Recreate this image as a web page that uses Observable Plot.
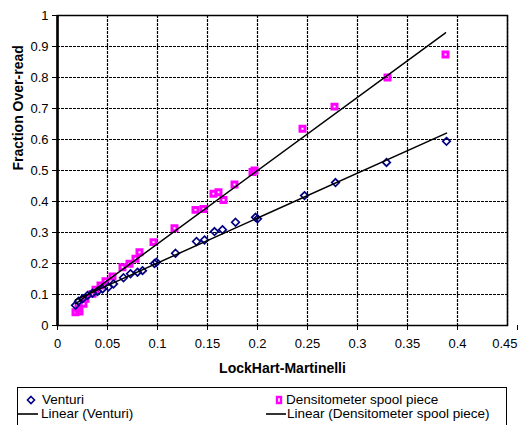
<!DOCTYPE html>
<html>
<head>
<meta charset="utf-8">
<script src="https://cdn.jsdelivr.net/npm/d3@7"></script>
<script src="https://cdn.jsdelivr.net/npm/@observablehq/plot@0.6"></script>
<style>
  html, body { margin: 0; padding: 0; background: #fff; overflow: hidden; }
  body { width: 518px; height: 425px; position: relative; font-family: Arial, "Liberation Sans", sans-serif; }
  #legend { position: absolute; left: 17px; top: 387px; width: 490px; height: 60px; border: 1.5px solid #000; box-sizing: border-box; font-size: 13.5px; color: #000; }
  #legend .item { position: absolute; white-space: nowrap; line-height: 14px; }
  #legend svg { position: absolute; }
</style>
</head>
<body>
<div id="chart"></div>
<div id="legend"></div>
<script>
// Venturi over-read vs Lockhart-Martinelli parameter
const venturiX = [0.018, 0.021, 0.025, 0.030, 0.035, 0.040, 0.045, 0.051, 0.056, 0.066, 0.073, 0.080, 0.085, 0.097, 0.099, 0.118, 0.139, 0.147, 0.157, 0.165, 0.178, 0.198, 0.200, 0.247, 0.278, 0.329, 0.389];
const venturiY = [0.065, 0.078, 0.086, 0.097, 0.104, 0.110, 0.118, 0.124, 0.134, 0.154, 0.167, 0.172, 0.177, 0.200, 0.204, 0.233, 0.271, 0.276, 0.303, 0.309, 0.333, 0.349, 0.344, 0.419, 0.461, 0.526, 0.594];

// Densitometer spool piece over-read
const densX = [0.018, 0.021, 0.022, 0.026, 0.028, 0.035, 0.038, 0.043, 0.048, 0.055, 0.065, 0.072, 0.078, 0.082, 0.096, 0.117, 0.138, 0.146, 0.156, 0.161, 0.166, 0.177, 0.195, 0.197, 0.245, 0.277, 0.330, 0.388];
const densY = [0.043, 0.054, 0.045, 0.070, 0.086, 0.102, 0.115, 0.129, 0.143, 0.158, 0.188, 0.199, 0.215, 0.236, 0.269, 0.314, 0.373, 0.376, 0.425, 0.430, 0.405, 0.455, 0.495, 0.500, 0.635, 0.706, 0.800, 0.874];

const xTicks = [0, 0.05, 0.1, 0.15, 0.2, 0.25, 0.3, 0.35, 0.4, 0.45];
const yTicks = [0, 0.1, 0.2, 0.3, 0.4, 0.5, 0.6, 0.7, 0.8, 0.9, 1];

const venturi = venturiX.map((x, i) => ({x, y: venturiY[i]}));
const dens = densX.map((x, i) => ({x, y: densY[i]}));

const navy = "#000080";
const magenta = "#FF00FF";
const fmt = d => String(+d.toFixed(2));
const lastTick = xTicks[xTicks.length - 1];

const chart = Plot.plot({
  width: 518,
  height: 385,
  marginLeft: 57,
  marginRight: 11,
  marginTop: 15,
  marginBottom: 60,
  style: {fontFamily: "Arial, 'Liberation Sans', sans-serif", fontSize: "13px", color: "#000", background: "#fff", overflow: "visible"},
  x: {domain: [0, 0.45]},
  y: {domain: [0, 1]},
  marks: [
    Plot.gridX(xTicks, {stroke: "#000", strokeOpacity: 1, strokeWidth: 1.2, strokeDasharray: "3,1"}),
    Plot.gridY(yTicks, {stroke: "#000", strokeOpacity: 1, strokeWidth: 1.2, strokeDasharray: "3,1"}),
    Plot.frame({stroke: "#000", strokeWidth: 1.5}),
    Plot.ruleX([0], {stroke: "#000", strokeWidth: 2.5}),
    Plot.axisX({ticks: xTicks.slice(0, -1), tickSize: 5, tickPadding: 8, tickFormat: fmt, label: null, fontSize: 13}),
    // last label kept inside the page edge
    Plot.axisX({ticks: [lastTick], tickSize: 5, tickPadding: 8, tickFormat: fmt, label: null, fontSize: 13, textAnchor: "end", dx: 10}),
    Plot.axisY({ticks: yTicks, tickSize: 5, tickPadding: 4, tickFormat: fmt, label: null, fontSize: 13}),
    Plot.text(["LockHart-Martinelli"], {frameAnchor: "bottom", dy: 47, fontWeight: "bold", fontSize: 14}),
    Plot.text(["Fraction Over-read"], {frameAnchor: "left", dx: -39, rotate: -90, fontWeight: "bold", fontSize: 14}),
    Plot.dot(dens, {x: "x", y: "y", symbol: "square", r: 2.8, fill: "none", stroke: magenta, strokeWidth: 3}),
    Plot.dot(venturi, {x: "x", y: "y", symbol: "diamond2", r: 3.4, fill: "none", stroke: navy, strokeWidth: 1.7}),
    Plot.linearRegressionY(venturi, {x: "x", y: "y", ci: 0, stroke: "#000", strokeWidth: 1.5}),
    Plot.linearRegressionY(dens, {x: "x", y: "y", ci: 0, stroke: "#000", strokeWidth: 1.5})
  ]
});
document.getElementById("chart").appendChild(chart);

// Legend below the plot
const legend = document.getElementById("legend");
const items = [
  {label: "Venturi", left: 8, top: 5, kind: "diamond", gap: 16},
  {label: "Densitometer spool piece", left: 257, top: 5, kind: "square", gap: 11},
  {label: "Linear (Venturi)", left: 0, top: 19, kind: "line", gap: 23},
  {label: "Linear (Densitometer spool piece)", left: 248, top: 19, kind: "line", gap: 21}
];
for (const it of items) {
  const el = document.createElement("div");
  el.className = "item";
  el.style.left = it.left + "px";
  el.style.top = it.top + "px";
  let sym = "";
  if (it.kind === "diamond") {
    sym = `<svg width="10" height="10" style="left:0;top:2px"><path d="M5,1.5L8.5,5L5,8.5L1.5,5Z" fill="none" stroke="${navy}" stroke-width="1.6"/></svg>`;
  } else if (it.kind === "square") {
    sym = `<svg width="10" height="10" style="left:0;top:2px"><rect x="2" y="2" width="4" height="6" fill="none" stroke="${magenta}" stroke-width="2.4"/></svg>`;
  } else {
    sym = `<svg width="22" height="10" style="left:0;top:2px"><line x1="0" y1="5" x2="20" y2="5" stroke="#000" stroke-width="1.6"/></svg>`;
  }
  el.innerHTML = sym + `<span style="margin-left:${it.gap}px">${it.label}</span>`;
  legend.appendChild(el);
}
</script>
</body>
</html>
